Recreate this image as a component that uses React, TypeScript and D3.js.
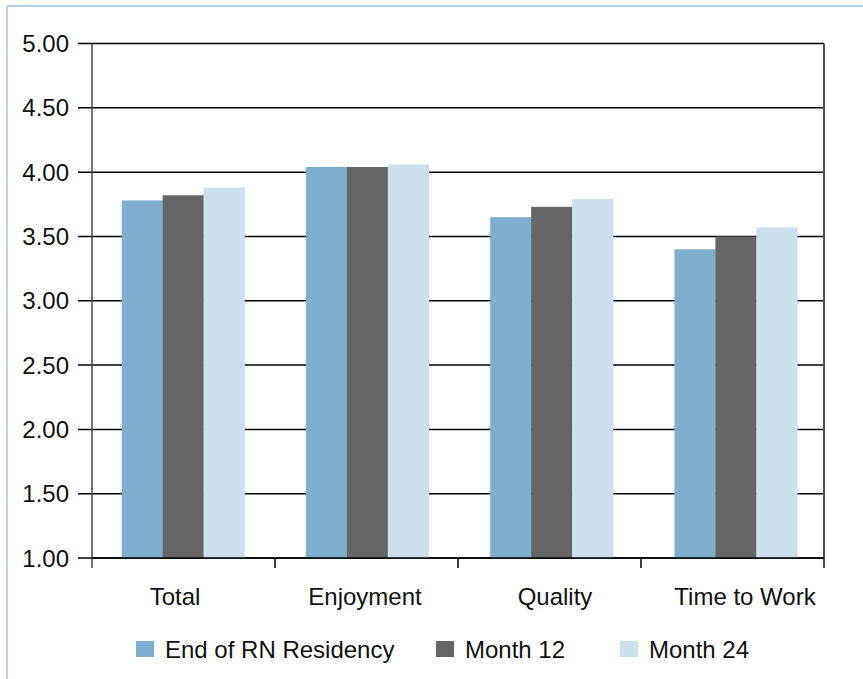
import React from 'react';
import * as d3 from 'd3';

const categories = ['Total', 'Enjoyment', 'Quality', 'Time to Work'];
const seriesNames = ['End of RN Residency', 'Month 12', 'Month 24'];
const residency = [3.78, 4.04, 3.65, 3.4];
const month12 = [3.82, 4.04, 3.73, 3.5];
const month24 = [3.88, 4.06, 3.79, 3.57];
const colors = ['#7eafce', '#666666', '#cbdfec'];
const yTicks = [1, 1.5, 2, 2.5, 3, 3.5, 4, 4.5, 5];

const W = 863;
const H = 679;
const margin = { top: 43.5, right: 39, bottom: 121, left: 92 };

const App: React.FC = () => {
  const series = [residency, month12, month24];
  // axis bands (tick positions)
  const x = d3.scaleBand<string>()
    .domain(categories)
    .range([margin.left, W - margin.right]);
  // bar groups sit on a slightly wider step than the ticks
  const xBars = d3.scaleBand<string>()
    .domain(categories)
    .range([91, 828]);
  const inner = d3.scaleBand<number>()
    .domain([0, 1, 2])
    .range([0, xBars.bandwidth()])
    .paddingOuter(0.75);
  // category labels are spread a bit wider than the bands
  const xLabel = d3.scalePoint<string>().domain(categories).range([175, 745]);
  const y = d3.scaleLinear().domain([1, 5]).range([H - margin.bottom, margin.top]);
  const font = 'Liberation Sans, Arial, sans-serif';
  const fs = 24;
  const legendX = [136, 436, 620];

  return (
    <svg width={W} height={H} style={{ position: 'absolute', left: 0, top: 0, display: 'block' }}>
      <rect x={0} y={0} width={W} height={H} fill="#fff" />
      {/* outer frame */}
      <line x1={7} x2={W} y1={6} y2={6} stroke="#9cc5e0" strokeWidth={1.5} />
      <line x1={7} x2={7} y1={6} y2={H} stroke="#9cc5e0" strokeWidth={1.5} />

      {/* gridlines */}
      {yTicks.map(t => (
        <line key={t} x1={78} x2={W - margin.right} y1={y(t)} y2={y(t)} stroke="#000" strokeWidth={1.5} />
      ))}
      {yTicks.map(t => (
        <text key={'l' + t} x={69} y={y(t)} textAnchor="end" dominantBaseline="central"
          fontFamily={font} fontSize={fs} fill="#111">{t.toFixed(2)}</text>
      ))}

      {/* bars */}
      {categories.map((c, i) => (
        <g key={c}>
          {series.map((s, j) => (
            <rect key={j} x={xBars(c)! + inner(j)!} width={inner.bandwidth() + 0.3}
              y={y(s[i])} height={y(1) - y(s[i])} fill={colors[j]} />
          ))}
        </g>
      ))}

      {/* axes */}
      <line x1={margin.left} x2={margin.left} y1={margin.top} y2={y(1) + 10} stroke="#444" strokeWidth={1.5} />
      <line x1={W - margin.right} x2={W - margin.right} y1={margin.top} y2={y(1) + 10} stroke="#555" strokeWidth={2} />
      <line x1={margin.left} x2={W - margin.right} y1={y(1)} y2={y(1)} stroke="#000" strokeWidth={1.5} />
      {categories.slice(1).map(c => (
        <line key={'t' + c} x1={x(c)!} x2={x(c)!} y1={y(1)} y2={y(1) + 10} stroke="#000" strokeWidth={1.5} />
      ))}
      {categories.map(c => (
        <text key={'c' + c} x={xLabel(c)!} y={596} textAnchor="middle" dominantBaseline="central"
          fontFamily={font} fontSize={fs} fill="#111">{c}</text>
      ))}

      {/* legend */}
      {seriesNames.map((n, j) => (
        <g key={n} transform={`translate(${legendX[j]},641)`}>
          <rect x={0} y={0} width={18} height={16} fill={colors[j]} />
          <text x={29} y={8} dominantBaseline="central" fontFamily={font} fontSize={fs} fill="#111">{n}</text>
        </g>
      ))}
    </svg>
  );
};

export default App;
